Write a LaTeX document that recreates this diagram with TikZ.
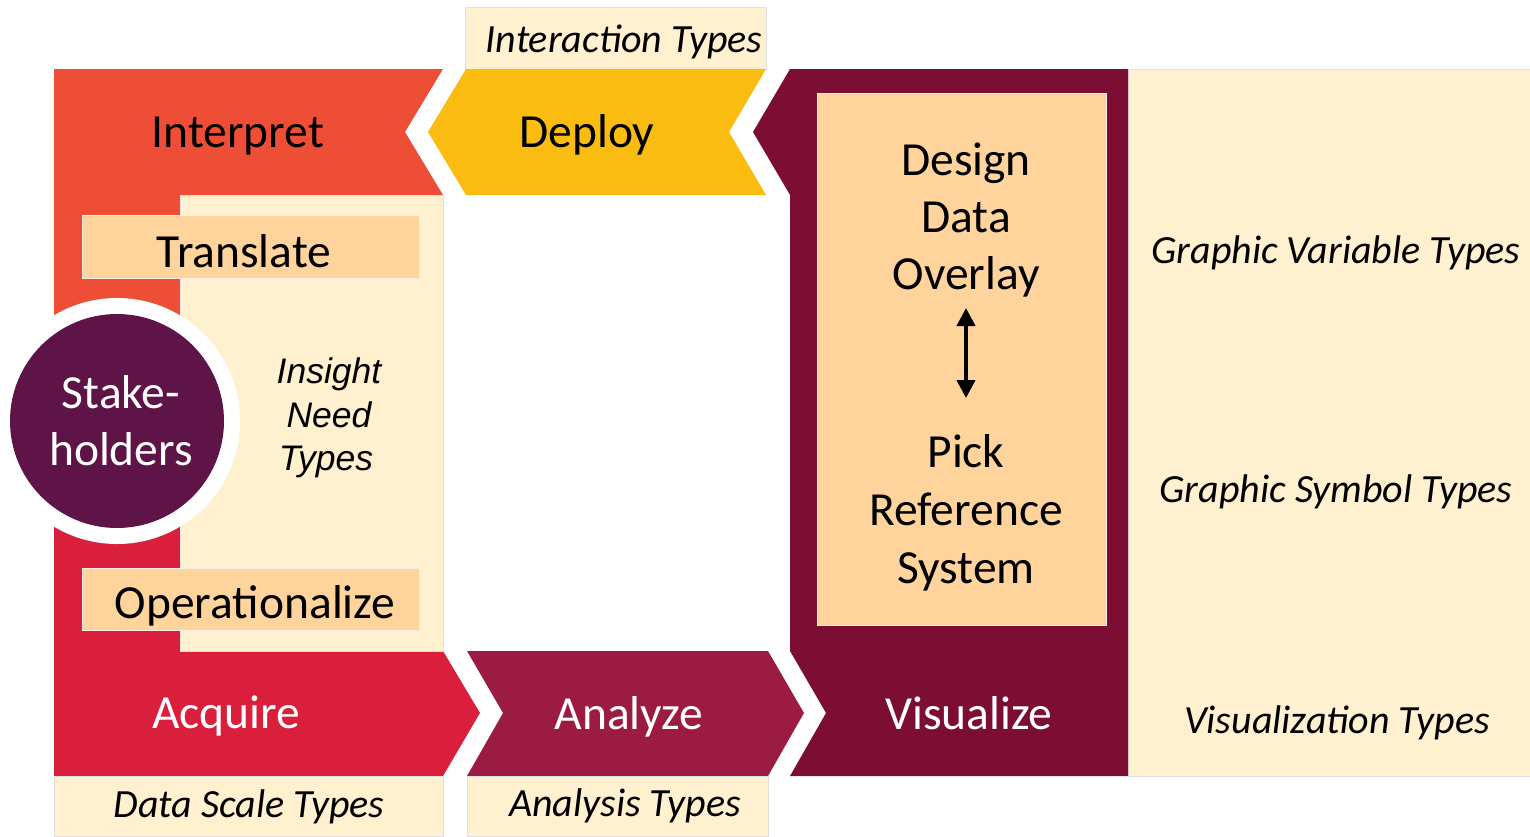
\documentclass[tikz,border=0pt]{standalone}
\usepackage{fontspec}
\setmainfont{Carlito}
\newfontfamily\arialfont{Liberation Sans}
\usetikzlibrary{arrows.meta}
\definecolor{cInterp}{HTML}{EF4E36}
\definecolor{cAcq}{HTML}{DA1F3D}
\definecolor{cCream}{HTML}{FFF0D0}
\definecolor{cPeach}{HTML}{FED39C}
\definecolor{cDeploy}{HTML}{FBBC12}
\definecolor{cAnalyze}{HTML}{9B1B42}
\definecolor{cMaroon}{HTML}{7D0E33}
\definecolor{cPurple}{HTML}{5E1447}
\begin{document}
\begin{tikzpicture}[x=1pt,y=-1pt,
  big/.style={font=\fontsize{47.5}{56}\selectfont, anchor=base, inner sep=0pt},
  bigw/.style={big, text=white},
  lbl/.style={font=\fontsize{40}{46}\selectfont\itshape, anchor=base, inner sep=0pt},
  ins/.style={font=\arialfont\fontsize{35.5}{43}\selectfont\itshape, anchor=base, inner sep=0pt},
  creambox/.style={fill=cCream, draw=black!12, line width=0.8pt},
  peachbox/.style={fill=cPeach, draw=cPeach!80!black!20, line width=0.6pt}]
\useasboundingbox (0,0) rectangle (1530,836);
% left L shape
\fill[cInterp] (54,69) -- (443,69) -- (405,132) -- (443,195) -- (180,195) -- (180,421) -- (54,421) -- cycle;
\fill[cAcq] (54,421) -- (180,421) -- (180,651) -- (443,651) -- (480,713) -- (443,776) -- (54,776) -- cycle;
\filldraw[creambox] (180,195) rectangle (443,651);
\filldraw[peachbox] (82,215) rectangle (419,278);
\filldraw[peachbox] (82,568) rectangle (419,630);
\filldraw[creambox] (54,776) rectangle (443,836);
% circle
\fill[white] (117,421) circle[radius=123];
\fill[cPurple] (117,421) circle[radius=107];
% deploy
\filldraw[creambox] (465,7) rectangle (766,69);
\fill[cDeploy] (466,69) -- (766,69) -- (729,132) -- (766,195) -- (466,195) -- (428,132) -- cycle;
% analyze
\fill[cAnalyze] (467,651) -- (768,651) -- (804,713) -- (768,776) -- (467,776) -- (503,713) -- cycle;
\filldraw[creambox] (467,776) rectangle (768,836);
% visualize block
\filldraw[creambox] (1128,69) rectangle (1530,776);
\fill[cMaroon] (790,69) -- (1128,69) -- (1128,776) -- (790,776) -- (826,713) -- (790,651) -- (790,195) -- (753,132) -- cycle;
\filldraw[peachbox] (817,93) rectangle (1106,625);
% texts
\node[big] (interpret) at (238,147) {Interpret};
\node[big] (deploy) at (587,147) {Deploy};
\node[big] (translate) at (244,267) {Translate};
\node[big] (operationalize) at (255,618) {Operationalize};
\node[bigw] (acquire) at (226,728) {Acquire};
\node[bigw] (analyze) at (629,729) {Analyze};
\node[bigw] (visualize) at (969,729) {Visualize};
\node[bigw] (stake1) at (121,408) {Stake-};
\node[bigw] (stake2) at (121,465) {holders};
\node[ins] (ins1) at (329,383) {Insight};
\node[ins] (ins2) at (329,427) {Need};
\node[ins] (ins3) at (326,470) {Types};
\node[big] (design) at (966,175) {Design};
\node[big] (data) at (966,232) {Data};
\node[big] (overlay) at (966,289) {Overlay};
\node[big] (pick) at (966,467) {Pick};
\node[big] (reference) at (966,525) {Reference};
\node[big] (system) at (966,583) {System};
\node[lbl] (interaction) at (624,52) {Interaction Types};
\node[lbl] (datascale) at (249,817) {Data Scale Types};
\node[lbl] (analysis) at (625,816) {Analysis Types};
\node[lbl] (gvt) at (1336,263) {Graphic Variable Types};
\node[lbl] (gst) at (1336,502) {Graphic Symbol Types};
\node[lbl] (vt) at (1337,733) {Visualization Types};
% double arrow
\coordinate (atop) at (966,308);
\coordinate (abot) at (966,398);
\draw[line width=4pt, {Triangle[width=18pt,length=18pt]}-{Triangle[width=18pt,length=18pt]}] (atop) -- (abot);
\end{tikzpicture}
\end{document}
